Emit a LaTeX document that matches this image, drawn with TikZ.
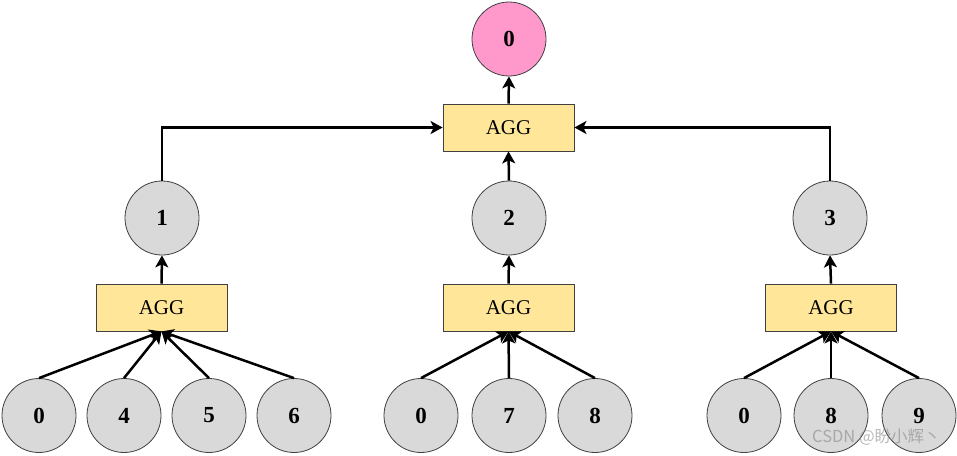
\documentclass[tikz,border=0pt]{standalone}
\usepackage{fontspec}
\setmainfont{Liberation Serif}
\newfontfamily\cjk{Noto Sans CJK SC}
\usetikzlibrary{arrows.meta}
\definecolor{nodegray}{HTML}{D9D9D9}
\definecolor{rootpink}{HTML}{FF99CC}
\definecolor{aggfill}{HTML}{FFE699}
\definecolor{edgegray}{HTML}{404040}
\tikzset{
  vert/.style={circle, draw=edgegray, line width=0.8pt, fill=nodegray, minimum size=74pt, inner sep=0pt, font=\fontsize{23}{23}\selectfont\bfseries},
  rootvert/.style={vert, fill=rootpink},
  aggbox/.style={rectangle, draw=edgegray, line width=0.8pt, fill=aggfill, minimum width=131pt, minimum height=47pt, inner sep=0pt, font=\fontsize{21}{21}\selectfont},
  link/.style={line width=2.5pt, -{Stealth[length=12pt,width=13pt,inset=3pt]}}
}
\begin{document}
\begin{tikzpicture}[x=1pt,y=-1pt]
\useasboundingbox (0,0) rectangle (957,455);
% top
\node[rootvert] (root) at (509,39) {0};
\node[aggbox] (aggtop) at (508.5,127.5) {AGG};
% middle
\node[vert] (n1) at (162,218) {1};
\node[vert] (n2) at (509,218) {2};
\node[vert] (n3) at (830,218) {3};
\node[aggbox] (agg1) at (161.5,307.5) {AGG};
\node[aggbox] (agg2) at (508.5,307.5) {AGG};
\node[aggbox] (agg3) at (831,307.5) {AGG};
% bottom
\node[vert] (a0) at (39,415.5) {0};
\node[vert] (a4) at (124,415.5) {4};
\node[vert] (a5) at (209,415.5) {5};
\node[vert] (a6) at (294,415.5) {6};
\node[vert] (b0) at (421,415.5) {0};
\node[vert] (b7) at (509,415.5) {7};
\node[vert] (b8) at (595,415.5) {8};
\node[vert] (c0) at (744,415.5) {0};
\node[vert] (c8) at (831,415.5) {8};
\node[vert] (c9) at (919,415.5) {9};
% edges
\foreach \s in {a0,a4,a5,a6} \draw[link] (\s.north) -- (agg1.south);
\foreach \s in {b0,b7,b8} \draw[link] (\s.north) -- (agg2.south);
\foreach \s in {c0,c8,c9} \draw[link] (\s.north) -- (agg3.south);
\draw[link] (agg1.north) -- (n1.south);
\draw[link] (agg2.north) -- (n2.south);
\draw[link] (agg3.north) -- (n3.south);
\draw[link] (n1.north) |- (aggtop.west);
\draw[link] (n3.north) |- (aggtop.east);
\draw[link] (n2.north) -- (aggtop.south);
\draw[link] (aggtop.north) -- (root.south);
% watermark
\node[anchor=west, text=gray, opacity=0.55, font=\cjk\fontsize{16.5}{16.5}\selectfont, inner sep=0pt] (wm) at (812,437) {CSDN @盼小辉丶};
\end{tikzpicture}
\end{document}
